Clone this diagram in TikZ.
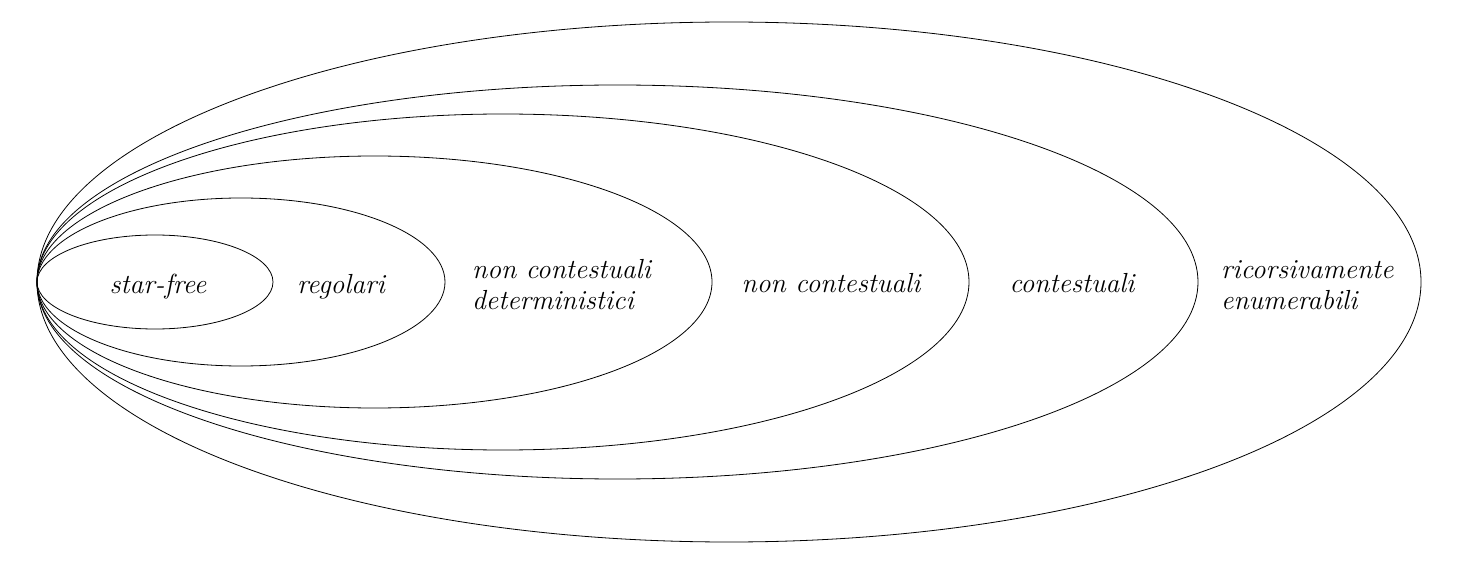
\documentclass[tikz,border=0pt]{standalone}
\begin{document}
\begin{tikzpicture}[x=0.5pt,y=-0.5pt,font=\fontsize{13.8}{15.5}\selectfont\itshape]
\useasboundingbox (0,0) rectangle (1478,561);
\draw (155,282) ellipse [x radius=118, y radius=47];
\draw (241,282) ellipse [x radius=204, y radius=84];
\draw (374.5,282) ellipse [x radius=337.5, y radius=126];
\draw (503,282) ellipse [x radius=466, y radius=168];
\draw (617.5,282) ellipse [x radius=580.5, y radius=197];
\draw (729,282) ellipse [x radius=692, y radius=260];
\node (starfree) at (158,287) {star-free};
\node (regolari) at (341,287) {regolari};
\node[right, align=left] (ncdet) at (465,285) {non contestuali\\deterministici};
\node (noncont) at (831,283) {non contestuali};
\node (cont) at (1072,283) {contestuali};
\node[right, align=left] (receb) at (1214,285) {ricorsivamente\\enumerabili};
\end{tikzpicture}
\end{document}
